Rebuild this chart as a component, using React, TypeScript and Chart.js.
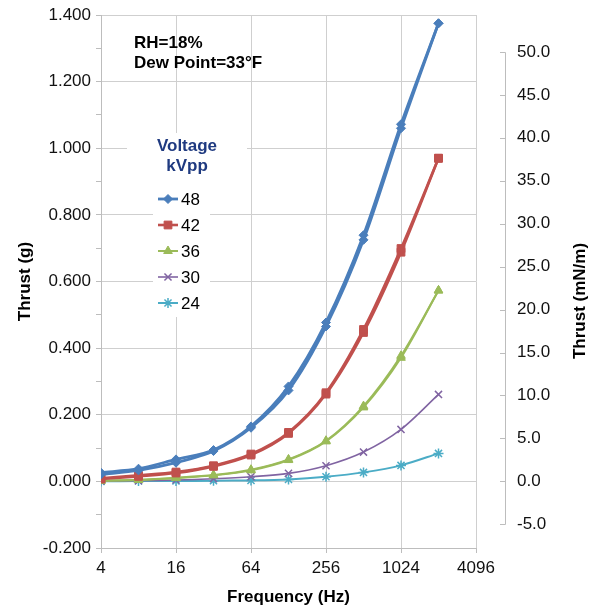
import { useEffect, useRef } from 'react';
import { Chart, registerables } from 'chart.js';
import { drawPoint } from 'chart.js/helpers';

Chart.register(...registerables);

const frequencies = [4, 8, 16, 32, 64, 128, 256, 512, 1024, 2048];
const xTickValues = [4, 16, 64, 256, 1024, 4096];
const rightTickValues = [-5, 0, 5, 10, 15, 20, 25, 30, 35, 40, 45, 50];
const voltages = ['48', '42', '36', '30', '24'];

const thrust48a = [0.026, 0.038, 0.066, 0.094, 0.165, 0.285, 0.477, 0.739, 1.072, 1.375];
const thrust48b = [0.021, 0.033, 0.056, 0.091, 0.161, 0.273, 0.465, 0.725, 1.06, 1.375];
const thrust42a = [0.009, 0.018, 0.028, 0.047, 0.082, 0.147, 0.266, 0.456, 0.699, 0.97];
const thrust42b = [0.007, 0.015, 0.025, 0.045, 0.079, 0.144, 0.262, 0.447, 0.688, 0.97];
const thrust36a = [0.002, 0.005, 0.011, 0.019, 0.035, 0.066, 0.122, 0.226, 0.377, 0.573];
const thrust36b = [0.002, 0.004, 0.01, 0.018, 0.033, 0.064, 0.12, 0.222, 0.371, 0.573];
const thrust30 = [0.001, 0.002, 0.004, 0.008, 0.014, 0.024, 0.047, 0.088, 0.156, 0.261];
const thrust24 = [0.0, 0.001, 0.001, 0.002, 0.003, 0.006, 0.014, 0.027, 0.048, 0.084];

const FONT = "'Liberation Sans', Arial, sans-serif";
const GRID = '#cfcfcf';
const AXIS = '#bdbdbd';

// g -> mN/m conversion implied by the dual axes
const G_TO_MNM = 38.78;
const Y_MIN = -0.2;
const Y_MAX = 1.4;

type Style = { color: string; pointStyle: string; radius: number; lineWidth: number; pbw: number };
const styles: Record<string, Style> = {
  '48': { color: '#4a7ebb', pointStyle: 'rectRot', radius: 4.5, lineWidth: 2.8, pbw: 1 },
  '42': { color: '#c0504d', pointStyle: 'rect', radius: 5.5, lineWidth: 2.6, pbw: 1 },
  '36': { color: '#9bbb59', pointStyle: 'triangle', radius: 5, lineWidth: 2, pbw: 1 },
  '30': { color: '#8064a2', pointStyle: 'crossRot', radius: 5, lineWidth: 1.6, pbw: 1.5 },
  '24': { color: '#4bacc6', pointStyle: 'star', radius: 5, lineWidth: 2, pbw: 1.5 },
};

function makeDataset(v: string, values: number[]) {
  const s = styles[v];
  return {
    label: v,
    data: frequencies.map((f, i) => ({ x: f, y: values[i] })),
    borderColor: s.color,
    backgroundColor: s.color,
    borderWidth: s.lineWidth,
    pointStyle: s.pointStyle,
    pointRadius: s.radius,
    pointBorderWidth: s.pbw,
    pointBackgroundColor: s.color,
    pointBorderColor: s.color,
    tension: 0.3,
    yAxisID: 'y',
  };
}

const overlayPlugin = {
  id: 'overlay',
  beforeDatasetsDraw(chart: any) {
    const ctx = chart.ctx;
    ctx.save();
    ctx.fillStyle = '#ffffff';
    ctx.fillRect(127, 133, 120, 40);
    ctx.fillRect(153, 172, 57, 145);
    ctx.restore();
  },
  afterDraw(chart: any) {
    const ctx = chart.ctx;
    ctx.save();
    // annotation
    ctx.fillStyle = '#000';
    ctx.font = `bold 17px ${FONT}`;
    ctx.textAlign = 'left';
    ctx.textBaseline = 'middle';
    ctx.fillText('RH=18%', 134, 43);
    ctx.fillText('Dew Point=33°F', 134, 63);

    // legend title
    ctx.fillStyle = '#1f3a80';
    ctx.textAlign = 'center';
    ctx.fillText('Voltage', 187, 146);
    ctx.fillText('kVpp', 187, 166);

    // legend items
    voltages.forEach((v, i) => {
      const s = styles[v];
      const y = 199 + i * 26;
      ctx.strokeStyle = s.color;
      ctx.fillStyle = s.color;
      ctx.lineWidth = s.lineWidth;
      ctx.beginPath();
      ctx.moveTo(158, y);
      ctx.lineTo(178, y);
      ctx.stroke();
      ctx.lineWidth = s.pbw;
      drawPoint(ctx, { pointStyle: s.pointStyle as any, rotation: 0, radius: s.radius, borderWidth: s.pbw }, 168, y);
      ctx.fillStyle = '#000';
      ctx.font = `17px ${FONT}`;
      ctx.textAlign = 'left';
      ctx.fillText(v, 181, y + 1);
    });

    // secondary axis line and ticks
    const y2 = chart.scales.y2;
    const x0 = 505;
    ctx.strokeStyle = AXIS;
    ctx.lineWidth = 1;
    ctx.beginPath();
    ctx.moveTo(x0 + 0.5, Math.round(y2.getPixelForValue(50)) + 0.5);
    ctx.lineTo(x0 + 0.5, Math.round(y2.getPixelForValue(-5)) + 0.5);
    rightTickValues.forEach((t) => {
      const py = Math.round(y2.getPixelForValue(t)) + 0.5;
      ctx.moveTo(x0 - 5, py);
      ctx.lineTo(x0 + 0.5, py);
    });
    ctx.stroke();

    // secondary axis title
    ctx.fillStyle = '#000';
    ctx.font = `bold 17px ${FONT}`;
    ctx.translate(580, 301);
    ctx.rotate(-Math.PI / 2);
    ctx.textAlign = 'center';
    ctx.textBaseline = 'middle';
    ctx.fillText('Thrust (mN/m)', 0, 0);
    ctx.restore();
  },
};

export default function App() {
  const ref = useRef<HTMLCanvasElement | null>(null);

  useEffect(() => {
    document.body.style.margin = '0';
    if (!ref.current) return;
    const datasets = [
      makeDataset('48', thrust48a),
      makeDataset('48', thrust48b),
      makeDataset('42', thrust42a),
      makeDataset('42', thrust42b),
      makeDataset('36', thrust36a),
      makeDataset('36', thrust36b),
      makeDataset('30', thrust30),
      makeDataset('24', thrust24),
    ];
    const chart = new Chart(ref.current, {
      type: 'line',
      data: { datasets: datasets as any },
      plugins: [overlayPlugin as any],
      options: {
        responsive: false,
        animation: false,
        layout: { padding: { top: 15, left: 0, right: 0, bottom: 0 } },
        plugins: { legend: { display: false }, tooltip: { enabled: false } },
        scales: {
          x: {
            type: 'logarithmic',
            min: 4,
            max: 4096,
            afterBuildTicks: (s: any) => {
              s.ticks = xTickValues.map((v) => ({ value: v }));
            },
            afterFit: (s: any) => {
              s.height = 60;
              s.paddingLeft = 0;
              s.paddingRight = 0;
            },
            ticks: {
              callback: (v: any) => String(v),
              font: { family: FONT, size: 17 },
              color: '#111',
              padding: 5,
              maxRotation: 0,
              autoSkip: false,
            },
            grid: { color: GRID, tickColor: AXIS, tickLength: 5 },
            border: { display: true, color: AXIS },
            title: {
              display: true,
              text: 'Frequency (Hz)',
              font: { family: FONT, size: 17, weight: 'bold' },
              color: '#000',
              padding: { top: 0, bottom: 0 },
            },
          },
          y: {
            type: 'linear',
            position: 'left',
            min: Y_MIN,
            max: Y_MAX,
            afterFit: (s: any) => {
              s.width = 101;
              s.paddingTop = 0;
              s.paddingBottom = 0;
            },
            ticks: {
              stepSize: 0.1,
              autoSkip: false,
              callback: (v: any) => {
                const n = Number(v);
                if (Math.round(n * 10) % 2 !== 0) return '';
                return (Math.abs(n) < 1e-9 ? 0 : n).toFixed(3);
              },
              font: { family: FONT, size: 17 },
              color: '#111',
              padding: 5,
            },
            grid: {
              color: (c: any) =>
                c.tick && Math.round(c.tick.value * 10) % 2 === 0 ? GRID : 'rgba(0,0,0,0)',
              tickColor: AXIS,
              tickLength: 5,
            },
            border: { display: true, color: AXIS },
            title: {
              display: true,
              text: 'Thrust (g)',
              font: { family: FONT, size: 17, weight: 'bold' },
              color: '#000',
              padding: { top: 15, bottom: 0 },
            },
          },
          y2: {
            type: 'linear',
            position: 'right',
            min: Y_MIN * G_TO_MNM,
            max: Y_MAX * G_TO_MNM,
            afterBuildTicks: (s: any) => {
              s.ticks = rightTickValues.map((v) => ({ value: v }));
            },
            afterFit: (s: any) => {
              s.width = 124;
              s.paddingTop = 0;
              s.paddingBottom = 0;
            },
            ticks: {
              callback: (v: any) => Number(v).toFixed(1),
              font: { family: FONT, size: 17 },
              color: '#111',
              padding: 41,
              autoSkip: false,
            },
            grid: { display: false, drawTicks: false },
            border: { display: false },
          },
        },
      },
    });
    return () => chart.destroy();
  }, []);

  return <canvas ref={ref} width={600} height={608} />;
}
